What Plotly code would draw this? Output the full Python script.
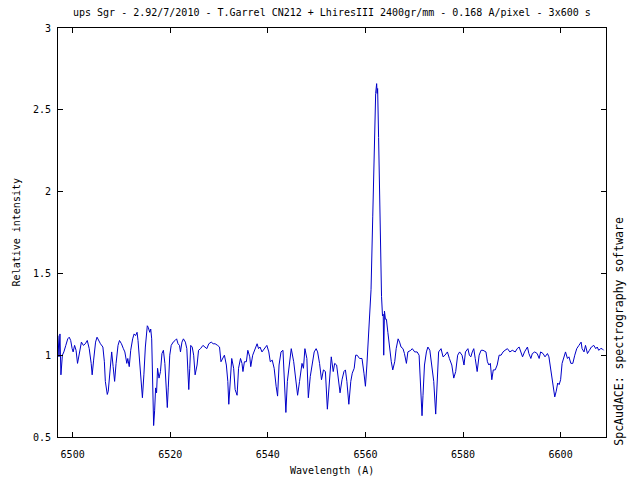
import plotly.graph_objects as go

wavelength = [
    6497.0, 6497.2, 6497.4, 6497.6, 6497.9, 6498.2, 6498.6, 6499.0, 6499.3, 6499.6,
    6499.9, 6500.1, 6500.4, 6500.7, 6501.0, 6501.4, 6501.8, 6502.2, 6502.6, 6503.0,
    6503.4, 6503.8, 6504.0, 6504.3, 6504.7, 6505.0, 6505.3, 6505.7, 6506.2, 6506.5,
    6506.7, 6507.1, 6507.3, 6507.6, 6508.0, 6508.3, 6508.6, 6508.9, 6509.3, 6509.6,
    6510.0, 6510.4, 6510.7, 6511.1, 6511.3, 6511.6, 6511.9, 6512.3, 6512.6, 6512.9,
    6513.2, 6513.4, 6513.8, 6514.0, 6514.3, 6514.6, 6514.9, 6515.3, 6515.5, 6515.8,
    6516.0, 6516.2, 6516.4, 6516.6, 6516.8, 6517.0, 6517.2, 6517.4, 6517.7, 6518.0,
    6518.3, 6518.6, 6518.9, 6519.2, 6519.4, 6519.6, 6519.9, 6520.2, 6520.6, 6521.0,
    6521.3, 6521.6, 6521.9, 6522.1, 6522.4, 6522.7, 6523.1, 6523.4, 6523.6, 6523.8,
    6524.0, 6524.2, 6524.5, 6524.8, 6525.1, 6525.5, 6525.8, 6526.2, 6526.7, 6527.2,
    6527.5, 6527.9, 6528.4, 6528.8, 6529.2, 6529.7, 6530.1, 6530.4, 6530.8, 6531.1,
    6531.5, 6531.8, 6532.0, 6532.3, 6532.6, 6533.0, 6533.3, 6533.7, 6534.0, 6534.4,
    6534.7, 6534.9, 6535.2, 6535.6, 6535.9, 6536.3, 6536.5, 6536.9, 6537.4, 6537.8,
    6538.1, 6538.4, 6538.8, 6539.3, 6539.8, 6540.2, 6540.5, 6540.9, 6541.3, 6541.7,
    6542.0, 6542.3, 6542.7, 6543.1, 6543.4, 6543.7, 6544.0, 6544.4, 6544.8, 6545.3,
    6545.7, 6546.1, 6546.5, 6546.8, 6547.0, 6547.3, 6547.6, 6548.0, 6548.3, 6548.7,
    6549.1, 6549.5, 6549.9, 6550.2, 6550.6, 6551.0, 6551.4, 6551.8, 6552.2, 6552.5,
    6552.8, 6553.0, 6553.4, 6553.7, 6554.1, 6554.4, 6554.8, 6555.2, 6555.6, 6555.9,
    6556.2, 6556.6, 6557.0, 6557.3, 6557.7, 6558.0, 6558.3, 6558.8, 6559.3, 6559.7,
    6560.0, 6560.3, 6560.5, 6560.8, 6561.15, 6561.5, 6561.8, 6562.1, 6562.3, 6562.4,
    6562.5, 6562.7, 6563.0, 6563.3, 6563.5, 6563.65, 6563.75, 6563.9, 6564.1, 6564.3,
    6564.6, 6564.96, 6565.3, 6565.6, 6566.0, 6566.3, 6566.7, 6567.0, 6567.3, 6567.7,
    6568.0, 6568.4, 6568.7, 6569.3, 6569.6, 6570.1, 6570.6, 6571.0, 6571.3, 6571.6,
    6571.8, 6572.1, 6572.5, 6572.8, 6573.2, 6573.6, 6574.0, 6574.4, 6574.7, 6575.0,
    6575.5, 6575.9, 6576.3, 6576.8, 6577.2, 6577.7, 6578.1, 6578.5, 6578.9, 6579.3,
    6579.8, 6580.2, 6580.5, 6581.0, 6581.3, 6581.6, 6581.9, 6582.2, 6582.5, 6582.9,
    6583.3, 6583.7, 6584.1, 6584.7, 6585.0, 6585.3, 6585.6, 6585.9, 6586.2, 6586.6,
    6587.0, 6587.4, 6587.8, 6588.2, 6588.6, 6589.1, 6589.6, 6590.1, 6590.7, 6591.1,
    6591.5, 6591.8, 6592.2, 6592.6, 6593.2, 6593.5, 6593.9, 6594.2, 6594.7, 6595.2,
    6595.6, 6595.9, 6596.4, 6596.8, 6597.3, 6597.6, 6597.95, 6598.3, 6598.6, 6598.8,
    6599.1, 6599.4, 6599.7, 6600.0, 6600.3, 6600.7, 6601.0, 6601.4, 6601.7, 6602.1,
    6602.5, 6602.9, 6603.3, 6603.75, 6604.2, 6604.4, 6604.8, 6605.1, 6605.5, 6605.9,
    6606.3, 6606.8, 6607.2, 6607.5, 6607.8, 6608.2, 6608.5, 6608.8,
]

intensity = [
    1.12, 0.99, 1.13, 0.88, 1.00, 1.02, 1.06, 1.10, 1.11, 1.09,
    1.04, 1.02, 1.06, 1.03, 0.95, 1.02, 1.08, 1.06, 1.07, 1.09,
    1.04, 0.95, 0.88, 0.97, 1.08, 1.11, 1.09, 1.07, 1.05, 0.96,
    0.84, 0.76, 0.78, 0.90, 1.02, 0.93, 0.84, 0.95, 1.06, 1.09,
    1.07, 1.04, 1.02, 0.95, 0.98, 0.93, 1.03, 1.10, 1.13, 1.12,
    1.14, 1.09, 0.95, 0.86, 0.74, 0.88, 1.05, 1.18, 1.17, 1.14,
    1.16, 1.10, 0.75, 0.57, 0.66, 0.80, 0.77, 0.92, 0.86, 0.90,
    1.01, 1.03, 0.95, 0.82, 0.68, 0.80, 1.00, 1.06, 1.08, 1.09,
    1.10, 1.07, 1.06, 1.02, 1.08, 1.10, 1.08, 1.04, 0.84, 0.79,
    0.92, 1.06, 1.05, 1.00, 0.88, 0.94, 1.03, 1.04, 1.06, 1.05,
    1.04, 1.07, 1.08, 1.07, 1.07, 1.06, 1.05, 0.96, 0.99, 1.00,
    0.94, 0.84, 0.70, 0.88, 0.98, 0.92, 0.79, 0.755, 0.92, 0.98,
    0.95, 0.90, 0.96, 0.96, 1.03, 0.99, 0.93, 1.00, 1.04, 1.07,
    1.04, 1.05, 1.02, 1.04, 1.06, 1.02, 0.96, 0.97, 0.92, 0.81,
    0.75, 0.94, 1.02, 1.03, 0.84, 0.65, 0.84, 0.96, 1.04, 0.96,
    0.84, 0.755, 0.84, 0.93, 0.95, 0.92, 1.04, 0.98, 0.74, 0.87,
    0.94, 1.02, 1.04, 1.02, 0.95, 0.85, 0.91, 0.90, 0.67, 0.78,
    0.94, 0.99, 0.90, 0.95, 0.94, 0.85, 0.77, 0.85, 0.90, 0.91,
    0.84, 0.70, 0.84, 0.89, 0.92, 1.00, 1.00, 0.98, 0.98, 0.89,
    0.81, 0.94, 1.07, 1.20, 1.40, 1.85, 2.33, 2.60, 2.66, 2.60,
    2.63, 2.33, 1.81, 1.36, 1.24, 1.25, 1.00, 1.27, 1.22, 1.22,
    1.14, 1.04, 0.96, 0.91, 0.96, 1.04, 1.10, 1.08, 1.05, 1.04,
    1.01, 0.95, 1.02, 1.03, 1.04, 1.02, 1.02, 1.00, 0.84, 0.63,
    0.755, 0.94, 1.02, 1.05, 1.03, 0.94, 0.84, 0.64, 0.84, 1.02,
    1.04, 0.99, 1.00, 1.02, 0.98, 0.94, 0.86, 0.90, 1.00, 1.02,
    1.00, 0.94, 1.02, 1.04, 1.00, 0.99, 1.02, 1.04, 0.98, 0.90,
    1.00, 1.03, 1.03, 1.02, 0.96, 0.94, 0.95, 0.85, 0.91, 0.91,
    0.94, 1.00, 1.00, 1.02, 1.03, 1.04, 1.02, 1.03, 1.02, 1.04,
    1.05, 1.02, 0.99, 1.02, 1.05, 1.01, 0.98, 1.01, 1.02, 1.01,
    0.98, 1.02, 1.01, 0.99, 1.01, 0.99, 0.92, 0.86, 0.78, 0.745,
    0.78, 0.83, 0.82, 0.85, 0.95, 1.00, 1.02, 0.98, 0.99, 0.95,
    0.95, 1.00, 1.04, 1.06, 1.08, 1.04, 1.02, 1.06, 1.01, 1.03,
    1.05, 1.06, 1.04, 1.05, 1.03, 1.04, 1.04, 1.03,
]

x_ticks = [6500, 6520, 6540, 6560, 6580, 6600]
y_ticks = [0.5, 1, 1.5, 2, 2.5, 3]

title_text = "ups Sgr - 2.92/7/2010 - T.Garrel CN212 + LhiresIII 2400gr/mm - 0.168 A/pixel - 3x600 s"
x_title = "Wavelength (A)"
y_title = "Relative intensity"
side_text = "SpcAudACE: spectrography software"

FONT = "DejaVu Sans Mono"

fig = go.Figure()
fig.add_trace(go.Scatter(
    x=wavelength, y=intensity, mode="lines",
    line=dict(color="#0000c8", width=1),
    showlegend=False, hoverinfo="skip",
))

axis_common = dict(
    showline=True, linecolor="black", linewidth=1, mirror="ticks",
    ticks="inside", ticklen=5, tickwidth=1, tickcolor="black",
    showgrid=False, zeroline=False,
    tickfont=dict(family=FONT, size=10, color="black"),
)

fig.update_layout(
    width=640, height=480,
    margin=dict(l=58, r=34, t=28, b=43),
    paper_bgcolor="white", plot_bgcolor="white",
    xaxis=dict(range=[6497.0, 6609.3], tickvals=x_ticks, ticklabelstandoff=8, **axis_common),
    yaxis=dict(range=[0.5, 3.0], tickvals=y_ticks, ticklabelstandoff=4, **axis_common),
    annotations=[
        dict(text=title_text, xref="paper", yref="paper", x=0.5, y=1.037,
             xanchor="center", yanchor="middle", showarrow=False,
             font=dict(family=FONT, size=10, color="black")),
        dict(text=x_title, xref="paper", yref="paper", x=0.5, y=-0.081,
             xanchor="center", yanchor="middle", showarrow=False,
             font=dict(family=FONT, size=10, color="black")),
        dict(text=y_title, xref="paper", yref="paper", x=-0.075, y=0.5,
             xanchor="center", yanchor="middle", showarrow=False, textangle=-90,
             font=dict(family=FONT, size=10, color="black")),
        dict(text=side_text, xref="paper", yref="paper", x=1.0237, y=0.26,
             xanchor="center", yanchor="middle", showarrow=False, textangle=-90,
             font=dict(family=FONT, size=11.5, color="black")),
    ],
)

fig.write_html(
    "out.html",
    config={"displayModeBar": False, "staticPlot": True},
    post_script="document.body.style.margin='0';document.body.style.padding='0';",
)
